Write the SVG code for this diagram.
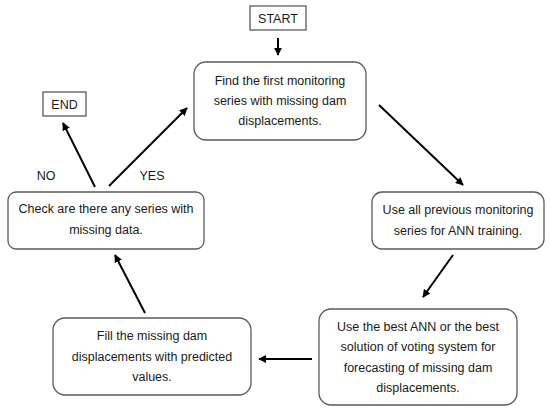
<svg xmlns="http://www.w3.org/2000/svg" width="550" height="411" viewBox="0 0 550 411">
<style>
.box{fill:#fff;stroke:#5a5a5a;stroke-width:1.3}
.t{font-family:"Liberation Sans",Arial,sans-serif;font-size:12.5px;fill:#1a1a1a;text-anchor:middle}
.c{stroke:#000;stroke-width:2;fill:none;marker-end:url(#ah)}
</style>
<defs>
<marker id="ah" viewBox="0 0 10 10" refX="9" refY="5" markerWidth="4" markerHeight="4" orient="auto" markerUnits="strokeWidth">
<path d="M0,0 L10,5 L0,10 z" fill="#000"/>
</marker>
</defs>
<rect width="550" height="411" fill="#fff"/>
<g id="start"><rect class="box" x="250" y="6" width="56" height="24"/><text class="t" x="278" y="23">START</text></g>
<g id="end"><rect class="box" x="43" y="92" width="43" height="24"/><text class="t" x="64.5" y="109">END</text></g>
<g id="find"><rect class="box" x="194" y="62" width="172" height="78" rx="12"/>
<text class="t" x="280" y="85">Find the first monitoring</text>
<text class="t" x="280" y="105">series with missing dam</text>
<text class="t" x="280" y="125">displacements.</text></g>
<g id="train"><rect class="box" x="372" y="192" width="172" height="57" rx="10"/>
<text class="t" x="458" y="214">Use all previous monitoring</text>
<text class="t" x="458" y="235">series for ANN training.</text></g>
<g id="forecast"><rect class="box" x="319" y="309" width="198" height="96" rx="12"/>
<text class="t" x="418" y="331">Use the best ANN or the best</text>
<text class="t" x="418" y="351">solution of voting system for</text>
<text class="t" x="418" y="372">forecasting of missing dam</text>
<text class="t" x="418" y="392">displacements.</text></g>
<g id="fill"><rect class="box" x="53" y="318" width="198" height="77" rx="12"/>
<text class="t" x="152" y="340">Fill the missing dam</text>
<text class="t" x="152" y="361">displacements with predicted</text>
<text class="t" x="152" y="381">values.</text></g>
<g id="check"><rect class="box" x="8" y="192" width="196" height="57" rx="8"/>
<text class="t" x="106" y="213">Check are there any series with</text>
<text class="t" x="106" y="234">missing data.</text></g>
<g id="connectors">
<line class="c" x1="278" y1="38" x2="278" y2="55"/>
<line class="c" x1="379" y1="105" x2="463" y2="185"/>
<line class="c" x1="453" y1="255" x2="423" y2="297"/>
<line class="c" x1="312" y1="359" x2="259" y2="359"/>
<line class="c" x1="145" y1="313" x2="115" y2="255"/>
<line class="c" x1="95" y1="187" x2="63" y2="123"/>
<line class="c" x1="109" y1="186" x2="187" y2="108"/>
<text class="t" x="46" y="180">NO</text>
<text class="t" x="152" y="180">YES</text>
</g>
</svg>
